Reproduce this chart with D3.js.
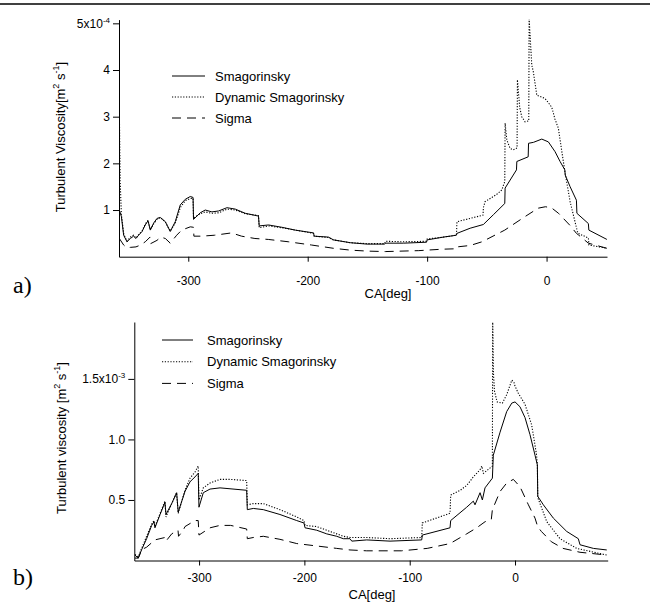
<!DOCTYPE html>
<html>
<head>
<meta charset="utf-8">
<script src="https://cdn.jsdelivr.net/npm/d3@7"></script>
<style>
  body { margin: 0; background: #fff; }
  svg { display: block; font-family: "Liberation Sans", Arial, sans-serif; }
</style>
</head>
<body>
<svg id="chart" width="650" height="605"></svg>
<script>
// Shared labels / ticks
const seriesNames = ['Smagorinsky', 'Dynamic Smagorinsky', 'Sigma'];
const xTickValues = [-300, -200, -100, 0];
const yTicksA = [1, 2, 3, 4, 5];
const yTicksB = [0.5, 1.0, 1.5];

// Panel a) [CA deg, viscosity x1e-4]
const smagA = [[-357.7,1.0],[-356.0,0.86],[-354.1,0.46],[-351.3,0.32],[-348.5,0.39],[-345.8,0.44],[-343.8,0.39],[-341.6,0.46],[-338.7,0.54],[-336.0,0.68],[-333.7,0.77],[-331.8,0.57],[-329.0,0.72],[-326.2,0.82],[-323.4,0.84],[-319.2,0.75],[-315.1,0.54],[-310.9,0.75],[-306.7,1.11],[-302.5,1.23],[-298.3,1.29],[-296.0,1.27],[-295.6,0.80],[-290.0,0.94],[-285.8,1.00],[-280.2,0.96],[-274.6,0.98],[-267.6,1.05],[-260.7,1.02],[-252.3,0.93],[-241.2,0.87],[-240.6,0.66],[-232.8,0.68],[-221.6,0.63],[-210.5,0.57],[-195.1,0.51],[-194.6,0.44],[-182.6,0.42],[-178.4,0.36],[-164.4,0.30],[-150.5,0.27],[-135.5,0.27],[-135.0,0.29],[-119.8,0.29],[-100.5,0.31],[-100.0,0.36],[-86.4,0.42],[-75.5,0.46],[-75.0,0.50],[-64.0,0.61],[-52.9,0.69],[-44.5,0.90],[-35.0,1.14],[-34.7,1.47],[-25.2,1.86],[-24.9,2.04],[-15.4,2.14],[-15.1,2.43],[-11.0,2.45],[-4.0,2.52],[1.5,2.46],[7.1,2.25],[11.3,2.04],[15.3,1.86],[15.6,1.75],[19.7,1.50],[25.0,1.21],[25.4,0.93],[35.0,0.71],[35.4,0.57],[50.5,0.37]];
const dynA = [[-357.6,2.90],[-357.0,1.60],[-356.0,0.90],[-354.0,0.48],[-351.3,0.33],[-348.5,0.42],[-345.8,0.46],[-343.8,0.40],[-341.6,0.47],[-338.7,0.55],[-336.0,0.70],[-333.7,0.78],[-331.8,0.58],[-329.0,0.70],[-326.2,0.80],[-323.4,0.84],[-319.2,0.74],[-315.1,0.55],[-310.9,0.72],[-306.7,1.05],[-302.5,1.20],[-298.3,1.25],[-296.0,1.25],[-295.6,0.83],[-290.0,0.92],[-285.8,0.96],[-280.2,0.93],[-274.6,0.94],[-267.6,1.02],[-260.7,1.00],[-252.3,0.92],[-241.2,0.88],[-240.6,0.62],[-232.8,0.66],[-221.6,0.62],[-210.5,0.57],[-195.1,0.50],[-194.6,0.44],[-182.6,0.41],[-178.4,0.36],[-164.4,0.30],[-150.5,0.28],[-135.5,0.28],[-135.0,0.33],[-119.8,0.32],[-100.5,0.33],[-100.0,0.38],[-86.4,0.42],[-75.5,0.46],[-75.0,0.75],[-64.0,0.82],[-53.2,0.89],[-52.9,1.05],[-51.5,1.18],[-42.0,1.33],[-37.5,1.43],[-35.0,1.61],[-34.7,2.86],[-33.3,2.50],[-30.5,2.32],[-27.8,2.29],[-24.7,2.33],[-24.4,3.79],[-22.5,3.20],[-20.8,3.00],[-18.0,2.89],[-14.9,2.91],[-14.6,5.10],[-12.4,4.11],[-11.0,3.95],[-8.2,3.46],[-1.3,3.39],[1.5,3.30],[4.4,3.20],[7.0,2.95],[9.9,2.75],[12.5,2.30],[15.5,1.80],[19.7,1.18],[23.8,0.75],[25.8,0.54],[26.6,0.50],[35.0,0.40],[35.5,0.25],[50.5,0.18]];
const sigmaA = [[-357.7,0.39],[-354.1,0.25],[-351.3,0.19],[-348.5,0.20],[-343.8,0.21],[-340.0,0.25],[-336.0,0.32],[-332.0,0.42],[-331.5,0.28],[-326.2,0.35],[-323.0,0.42],[-319.2,0.39],[-315.1,0.29],[-309.7,0.46],[-305.5,0.57],[-298.3,0.64],[-295.6,0.63],[-295.3,0.44],[-289.0,0.44],[-278.0,0.46],[-263.8,0.51],[-255.4,0.44],[-244.2,0.39],[-233.0,0.37],[-216.3,0.32],[-196.7,0.25],[-178.4,0.18],[-164.0,0.14],[-150.0,0.12],[-135.0,0.11],[-107.0,0.13],[-88.0,0.16],[-75.5,0.17],[-75.0,0.21],[-64.0,0.24],[-54.0,0.32],[-35.0,0.57],[-18.0,0.86],[-7.0,1.04],[-1.0,1.07],[4.0,1.05],[10.0,0.93],[20.0,0.66],[25.0,0.50],[27.0,0.46],[35.0,0.29],[50.5,0.18]];

// Panel b) [CA deg, viscosity x1e-3]
const smagB = [[-360.9,0.045],[-357.7,0.02],[-354.5,0.09],[-349.8,0.18],[-345.0,0.29],[-342.8,0.32],[-341.9,0.27],[-337.0,0.38],[-332.4,0.48],[-331.4,0.38],[-326.0,0.47],[-321.3,0.56],[-319.8,0.40],[-313.4,0.57],[-308.6,0.65],[-303.9,0.69],[-300.8,0.72],[-300.1,0.44],[-296.0,0.56],[-289.6,0.59],[-280.1,0.60],[-254.8,0.58],[-254.2,0.42],[-248.5,0.43],[-239.0,0.42],[-223.2,0.38],[-207.3,0.33],[-200.4,0.31],[-199.4,0.27],[-188.3,0.25],[-178.8,0.22],[-169.3,0.20],[-163.0,0.18],[-156.7,0.18],[-155.0,0.16],[-140.8,0.17],[-118.7,0.16],[-88.6,0.17],[-88.0,0.21],[-61.7,0.27],[-61.1,0.33],[-45.9,0.44],[-39.6,0.49],[-38.0,0.46],[-33.2,0.56],[-31.0,0.50],[-28.5,0.60],[-21.5,0.68],[-20.6,0.87],[-14.2,1.06],[-7.9,1.23],[-3.1,1.30],[0.0,1.31],[4.7,1.27],[9.5,1.18],[14.2,1.04],[19.0,0.87],[21.2,0.79],[21.6,0.53],[26.9,0.46],[36.4,0.35],[49.1,0.24],[60.1,0.18],[61.7,0.13],[74.4,0.10],[87.1,0.087]];
const dynB = [[-360.9,0.05],[-357.7,0.03],[-354.5,0.10],[-349.8,0.20],[-345.0,0.30],[-342.8,0.33],[-341.9,0.28],[-337.0,0.39],[-332.4,0.49],[-331.4,0.36],[-326.0,0.47],[-321.3,0.56],[-319.8,0.39],[-313.4,0.58],[-308.6,0.68],[-303.9,0.73],[-300.8,0.78],[-300.1,0.50],[-296.0,0.60],[-289.6,0.64],[-280.1,0.67],[-270.0,0.67],[-254.8,0.66],[-254.2,0.46],[-248.5,0.47],[-239.0,0.47],[-223.2,0.42],[-207.3,0.36],[-200.4,0.33],[-199.4,0.29],[-188.3,0.28],[-178.8,0.25],[-169.3,0.22],[-163.0,0.20],[-156.7,0.19],[-140.8,0.19],[-118.7,0.18],[-88.6,0.19],[-88.0,0.31],[-61.7,0.39],[-61.1,0.54],[-52.0,0.58],[-45.9,0.62],[-39.6,0.69],[-33.2,0.75],[-31.5,0.78],[-30.0,0.72],[-21.5,0.78],[-21.2,1.99],[-20.5,1.55],[-19.5,1.40],[-17.0,1.31],[-12.0,1.30],[-7.9,1.37],[-3.0,1.49],[-1.0,1.47],[0.0,1.44],[3.2,1.38],[9.5,1.29],[15.8,1.12],[20.5,0.87],[21.2,0.79],[21.6,0.52],[30.2,0.32],[42.7,0.18],[58.6,0.10],[87.1,0.045]];
const sigmaB = [[-360.9,0.02],[-357.7,0.02],[-354.5,0.09],[-349.8,0.11],[-342.0,0.17],[-332.4,0.19],[-331.4,0.16],[-326.0,0.22],[-320.0,0.25],[-319.5,0.20],[-315.0,0.25],[-313.4,0.28],[-303.9,0.33],[-300.8,0.33],[-300.1,0.21],[-289.6,0.27],[-280.1,0.29],[-270.0,0.29],[-254.8,0.26],[-254.2,0.18],[-248.5,0.19],[-239.0,0.20],[-223.2,0.175],[-207.3,0.14],[-188.3,0.12],[-169.3,0.10],[-156.7,0.087],[-140.8,0.08],[-108.0,0.08],[-83.4,0.10],[-61.7,0.14],[-45.9,0.22],[-36.4,0.27],[-28.5,0.32],[-22.5,0.34],[-21.5,0.42],[-14.2,0.57],[-7.9,0.64],[-1.6,0.67],[4.7,0.61],[12.7,0.46],[19.0,0.35],[21.5,0.28],[25.0,0.24],[34.5,0.155],[45.6,0.10],[61.7,0.068],[87.1,0.045]];

const svg = d3.select('#chart');
const dashes = [null, '1.2,1.6', '9,6'];

// rule across the top of the figure
svg.append('line')
  .attr('x1', 0).attr('x2', 650)
  .attr('y1', 4).attr('y2', 4)
  .attr('stroke', '#000').attr('stroke-width', 1.5);

function drawPanel(p) {
  const x = d3.scaleLinear().domain(p.xDomain).range([p.left, p.right]);
  const y = d3.scaleLinear().domain(p.yDomain).range([p.bottom, p.top]);
  const g = svg.append('g');

  g.append('clipPath').attr('id', p.id + '-clip')
    .append('rect')
    .attr('x', p.left).attr('y', p.top)
    .attr('width', p.right - p.left).attr('height', p.bottom - p.top);

  const line = d3.line().x(d => x(d[0])).y(d => y(d[1]));

  // series
  p.series.forEach((s, i) => {
    g.append('path')
      .datum(s)
      .attr('clip-path', `url(#${p.id}-clip)`)
      .attr('fill', 'none')
      .attr('stroke', '#000')
      .attr('stroke-width', i === 1 ? 1.1 : 1)
      .attr('stroke-dasharray', dashes[i])
      .attr('d', line);
  });

  // x axis (plain hyphen for negatives, like the original)
  const xAxis = g.append('g')
    .attr('transform', `translate(0,${p.bottom})`)
    .call(d3.axisBottom(x).tickValues(xTickValues).tickSize(5).tickSizeOuter(0).tickPadding(p.xPad)
      .tickFormat(d => String(d)));

  // y axis
  const yAxis = g.append('g')
    .attr('transform', `translate(${p.left},0)`)
    .call(d3.axisLeft(y).tickValues(p.yTicks).tickSize(6).tickSizeOuter(0).tickPadding(3)
      .tickFormat(p.yFormat));

  [xAxis, yAxis].forEach(a => {
    a.attr('font-size', 12).attr('font-family', null);
    a.select('.domain').attr('stroke', '#000');
    a.selectAll('.tick line').attr('stroke', '#000');
    a.selectAll('.tick text').attr('fill', '#000');
  });

  // top tick with exponent
  yAxis.selectAll('.tick text')
    .filter(d => d === p.expTick)
    .text(null)
    .call(t => {
      t.append('tspan').text(p.expBase);
      t.append('tspan').attr('dy', -5).attr('font-size', 8).text(p.expPow);
    });

  // x axis title
  g.append('text')
    .attr('x', p.xTitleX).attr('y', p.xTitleY)
    .attr('text-anchor', 'middle')
    .attr('font-size', 13)
    .text('CA[deg]');

  // y axis title
  const yt = g.append('text')
    .attr('transform', `translate(${p.yTitleX},${p.yTitleY}) rotate(-90)`)
    .attr('text-anchor', 'middle')
    .attr('font-size', 13);
  yt.append('tspan').text(p.yTitle);
  yt.append('tspan').attr('dy', -6).attr('font-size', 9).text('2');
  yt.append('tspan').attr('dy', 6).text(' s');
  yt.append('tspan').attr('dy', -6).attr('font-size', 9).text('-1');
  yt.append('tspan').attr('dy', 6).text(']');

  // legend
  seriesNames.forEach((name, i) => {
    const ly = p.legY + i * p.legDy;
    g.append('line')
      .attr('x1', p.legX1).attr('x2', p.legX2)
      .attr('y1', ly).attr('y2', ly)
      .attr('stroke', '#000')
      .attr('stroke-width', i === 1 ? 1.1 : 1)
      .attr('stroke-dasharray', dashes[i]);
    g.append('text')
      .attr('x', p.legTextX).attr('y', ly + 4.5)
      .attr('font-size', 13)
      .text(name);
  });

  // panel letter
  g.append('text')
    .attr('x', 13).attr('y', p.letterY)
    .attr('font-family', '"Liberation Serif", "Times New Roman", serif')
    .attr('font-size', 24)
    .text(p.letter);
}

drawPanel({
  id: 'pa', letter: 'a)', letterY: 293,
  xDomain: [-358, 50.6], yDomain: [0, 5.08],
  left: 119, right: 607, top: 19.6, bottom: 256.7,
  series: [smagA, dynA, sigmaA],
  yTicks: yTicksA, yFormat: d => String(d),
  expTick: 5, expBase: '5x10', expPow: '-4',
  xPad: 15,
  xTitleX: 388, xTitleY: 298,
  yTitleX: 65, yTitleY: 137, yTitle: 'Turbulent Viscosity[m',
  legX1: 172, legX2: 205, legTextX: 215, legY: 76, legDy: 21
});

drawPanel({
  id: 'pb', letter: 'b)', letterY: 585,
  xDomain: [-361.5, 88], yDomain: [0, 1.97],
  left: 134.3, right: 607.7, top: 322, bottom: 560.5,
  series: [smagB, dynB, sigmaB],
  yTicks: yTicksB, yFormat: d3.format('.1f'),
  expTick: 1.5, expBase: '1.5x10', expPow: '-3',
  xPad: 8,
  xTitleX: 372, xTitleY: 599,
  yTitleX: 66, yTitleY: 438, yTitle: 'Turbulent viscosity [m',
  legX1: 162, legX2: 193, legTextX: 207, legY: 340, legDy: 21.7
});
</script>
</body>
</html>
